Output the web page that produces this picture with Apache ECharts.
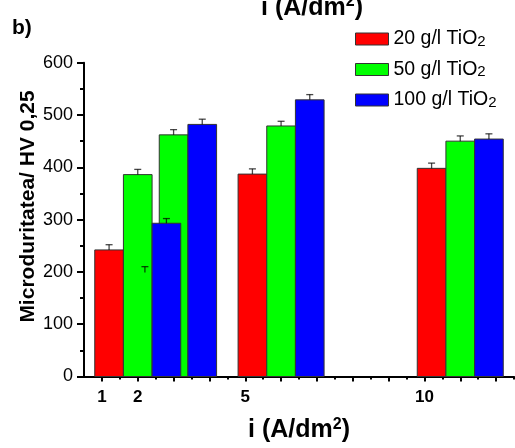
<!DOCTYPE html>
<html>
<head>
<meta charset="utf-8">
<script src="https://cdn.jsdelivr.net/npm/echarts@6/dist/echarts.min.js"></script>
<style>html,body{margin:0;padding:0;background:#fff}#c{width:515px;height:448px}</style>
</head>
<body>
<div id="c"></div>
<script>
// ---- data ----
var groupX = [1, 2, 5, 10];               // current density groups (A/dm2)
var red20 = [242, 199, 387, 398];         // 20 g/l TiO2
var green50 = [386, 462, 479, 450];       // 50 g/l TiO2
var blue100 = [293, 482, 529, 454];       // 100 g/l TiO2
var redErr = [10, 11, 10, 10];
var greenErr = [10, 10, 9, 10];
var blueErr = [9, 10, 10, 10];
var xTickLabels = [1, 2, 5, 10];
var seriesNames = ['20 g/l TiO2', '50 g/l TiO2', '100 g/l TiO2'];

var FONT = 'Liberation Sans, Arial, sans-serif';
var BAR_W = 0.8;
var offsets = [0.2, 1.0, 1.8];
var colors = ['#ff0000', '#00ff00', '#0000ff'];

function mk(vals, errs) {
  return groupX.map(function (g, i) { return [g, vals[i], errs[i]]; });
}
var sets = [mk(red20, redErr), mk(green50, greenErr), mk(blue100, blueErr)];

function barRender(k) {
  return function (params, api) {
    var x = api.value(0) + offsets[k];
    var v = api.value(1);
    var p0 = api.coord([x - BAR_W / 2, v]);
    var p1 = api.coord([x + BAR_W / 2, 0]);
    return {
      type: 'rect',
      shape: { x: p0[0], y: p0[1], width: p1[0] - p0[0], height: p1[1] - p0[1] },
      style: { fill: colors[k], stroke: '#333', lineWidth: 1 }
    };
  };
}
function errRender(k) {
  return function (params, api) {
    var x = api.value(0) + offsets[k];
    var v = api.value(1);
    var e = api.value(2);
    var a = api.coord([x, v]);
    var b = api.coord([x, v + e]);
    var st = { stroke: 'rgba(0,0,0,0.72)', lineWidth: 1.3 };
    return {
      type: 'group',
      children: [
        { type: 'line', shape: { x1: a[0], y1: a[1], x2: b[0], y2: b[1] }, style: st },
        { type: 'line', shape: { x1: b[0] - 3.5, y1: b[1], x2: b[0] + 3.5, y2: b[1] }, style: st }
      ]
    };
  };
}

var ticksMajor = [];
var ticksMinor = [];
for (var t = 1; t <= 12; t++) { ticksMajor.push(t); ticksMinor.push(t + 0.5); }

var series = [];
for (var k = 0; k < 3; k++) {
  series.push({
    name: seriesNames[k], type: 'custom', renderItem: barRender(k),
    data: sets[k], encode: { x: 0, y: 1 }, z: 2,
    itemStyle: { color: colors[k], borderColor: '#333', borderWidth: 1 }
  });
}
for (var k2 = 0; k2 < 3; k2++) {
  series.push({
    name: seriesNames[k2] + ' err', type: 'custom', renderItem: errRender(k2),
    data: sets[k2], encode: { x: 0, y: 1 }, z: 5, silent: true
  });
}

var titleRich = {
  a: { fontSize: 25, fontWeight: 'bold', color: '#000', fontFamily: FONT, lineHeight: 28 },
  p: { fontSize: 16, fontWeight: 'bold', color: '#000', fontFamily: FONT, lineHeight: 16, verticalAlign: 'top' }
};
var titleText = '{a|i (A/dm}{p|2}{a|)}';

var chart = echarts.init(document.getElementById('c'), null, { renderer: 'canvas' });
chart.setOption({
  animation: false,
  backgroundColor: '#fff',
  textStyle: { fontFamily: FONT },
  grid: { left: 84, right: 1, top: 62.7, bottom: 67.3, containLabel: false },
  legend: {
    data: seriesNames,
    orient: 'vertical',
    left: 350, top: 15,
    itemWidth: 33, itemHeight: 12, itemGap: 1.5,
    icon: 'rect',
    itemStyle: { borderColor: '#333', borderWidth: 1 },
    formatter: function (n) {
      return '{a|' + n.slice(0, -1) + '}{s|' + n.slice(-1) + '}';
    },
    textStyle: {
      fontFamily: FONT,
      rich: {
        a: { fontSize: 19.5, color: '#000', fontFamily: FONT, lineHeight: 20, verticalAlign: 'middle' },
        s: { fontSize: 15, color: '#000', fontFamily: FONT, lineHeight: 15, verticalAlign: 'bottom', padding: [14, 0, 0, 0] }
      }
    }
  },
  xAxis: [{
    type: 'value', min: 0.5, max: 12.5,
    axisLine: { show: true, onZero: false, lineStyle: { color: '#000', width: 2 } },
    axisTick: { show: true, customValues: ticksMajor, length: 5, lineStyle: { color: '#000', width: 2 } },
    axisLabel: { customValues: xTickLabels, color: '#000', fontSize: 17, fontWeight: 'bold', fontFamily: FONT, margin: 12 },
    splitLine: { show: false },
    name: titleText, nameLocation: 'middle', nameGap: 40,
    nameTextStyle: { rich: titleRich }
  }, {
    type: 'value', min: 0.5, max: 12.5, position: 'bottom',
    axisLine: { show: false },
    axisTick: { show: true, customValues: ticksMinor, length: 3, lineStyle: { color: '#000', width: 2 } },
    axisLabel: { show: false },
    splitLine: { show: false }
  }],
  yAxis: {
    type: 'value', min: 0, max: 600, interval: 100,
    axisLine: { show: true, lineStyle: { color: '#000', width: 2 } },
    axisTick: { show: true, length: 7, lineStyle: { color: '#000', width: 2 } },
    minorTick: { show: true, splitNumber: 2, length: 4, lineStyle: { color: '#000', width: 2 } },
    axisLabel: { color: '#000', fontSize: 18, fontFamily: FONT, margin: 11 },
    splitLine: { show: false }
  },
  graphic: [
    { type: 'text', left: 12, top: 18, style: { text: 'b)', font: 'bold 21px ' + FONT, fill: '#000' } },
    { type: 'text', x: 312, y: 8, style: { text: titleText, rich: titleRich, align: 'center', verticalAlign: 'middle' } },
    { type: 'text', x: 28, y: 206.5, rotation: Math.PI / 2, style: { text: 'Microduritatea/ HV 0,25', font: 'bold 21px ' + FONT, fill: '#000', align: 'center', verticalAlign: 'middle' } }
  ],
  series: series
});
</script>
</body>
</html>
